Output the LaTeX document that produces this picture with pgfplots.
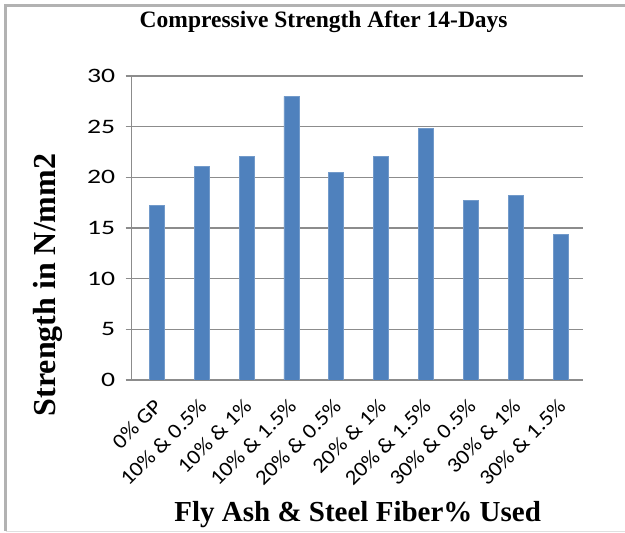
\documentclass[border=0pt]{standalone}
\usepackage{pgfplots}
\pgfplotsset{compat=1.18}
\usepackage{fontspec}
\setmainfont{Liberation Serif}
\newfontfamily\calibri[FakeStretch=1.35]{Carlito}
\newfontfamily\calibrix[FakeStretch=1.1]{Carlito}
\definecolor{barblue}{HTML}{4F81BD}
\definecolor{gridgray}{HTML}{8C8C8C}
\begin{document}
\begin{tikzpicture}[x=1pt,y=1pt]
% outer chart area
\path[use as bounding box] (-131.7,-153) rectangle (493.3,380);
\fill[white] (-131.7,-153) rectangle (493.3,380);
\draw[black!30, line width=3pt] (-126,-151) -- (-126,374.5) -- (493.3,374.5);
\draw[black!12, line width=1pt] (-126,-151.5) -- (493.3,-151.5);
\begin{axis}[
  at={(0,0)}, anchor=south west,
  scale only axis, width=451.3pt, height=304pt,
  ymin=0, ymax=30, ytick={0,5,...,30},
  xmin=-0.56, xmax=9.5,
  xtick=data,
  xticklabels={0\% GP, 10\% \& 0.5\%, 10\% \& 1\%, 10\% \& 1.5\%, 20\% \& 0.5\%, 20\% \& 1\%, 20\% \& 1.5\%, 30\% \& 0.5\%, 30\% \& 1\%, 30\% \& 1.5\%},
  x tick label style={xshift=-4pt, yshift=-10pt, rotate=45, anchor=north east, font=\calibrix\fontsize{21}{23}\selectfont, inner sep=1pt},
  y tick label style={font=\calibri\fontsize{20.5}{22}\selectfont},
  /pgf/number format/assume math mode=true,
  axis x line*=bottom, axis y line*=left,
  axis line style={gridgray, line width=1.2pt, -},
  major x tick style={draw=none},
  major y tick style={gridgray, line width=1.2pt},
  tick align=outside, major tick length=6pt,
  ymajorgrids, grid style={gridgray, line width=1.2pt},
  yticklabel style={xshift=-7pt},
  ybar, bar width=15pt,
]
\addplot[fill=barblue, draw=barblue!80!white, line width=0.6pt] coordinates {
  (0,17.2) (1,21.1) (2,22.1) (3,28.0) (4,20.5)
  (5,22.1) (6,24.8) (7,17.7) (8,18.2) (9,14.4)
};
\end{axis}
\node[font=\bfseries\fontsize{23.5}{26}\selectfont] at (192,358) {Compressive Strength  After 14-Days};
\node[font=\bfseries\fontsize{32}{35}\selectfont, rotate=90] at (-83.7,95) {Strength in N/mm2};
\node[font=\bfseries\fontsize{29}{32}\selectfont] at (226,-135) {Fly Ash \& Steel Fiber\%  Used};
\end{tikzpicture}
\end{document}
